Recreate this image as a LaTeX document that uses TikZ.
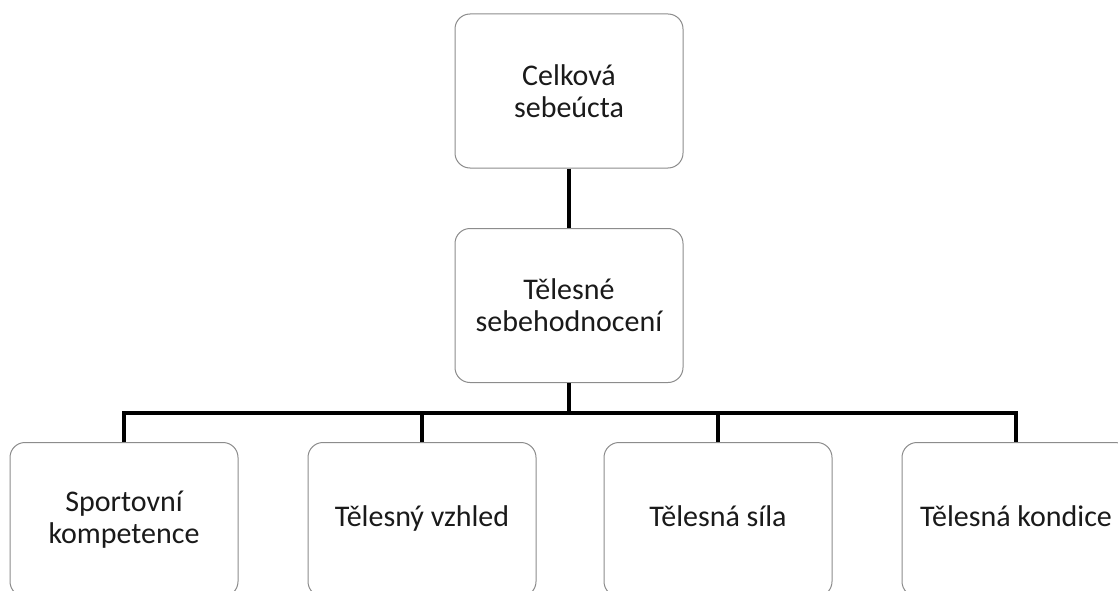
\documentclass[tikz,border=0pt]{standalone}
\usepackage{fontspec}
\setmainfont{Carlito}
\usetikzlibrary{positioning}
\definecolor{hkink}{HTML}{1A1A1A}
\definecolor{hkedge}{HTML}{8C8C8C}
\tikzset{
  box/.style={draw=hkedge,line width=1pt,rounded corners=15pt,fill=white,
              minimum width=228pt,minimum height=154pt,inner sep=0pt,
              align=center,font=\fontsize{30}{32}\selectfont,text=hkink},
  oneline/.style={text height=20pt,text depth=7pt},
  link/.style={line width=4pt,draw=black,line join=miter},
}

\begin{document}
\begin{tikzpicture}[x=1pt,y=-1pt]
  \useasboundingbox (0,0) rectangle (1118,591);
  \clip (0,0) rectangle (1118,591);

  % ---------- top levels ----------
  \node[box] (celk) at (569,91)    {Celková\\sebeúcta};
  \node[box] (tel)  at (569,305.5) {Tělesné\\sebehodnocení};

  % ---------- bottom row ----------
  \node[box] (sport) at (124,519.5)  {Sportovní\\kompetence};
  \node[box,oneline] (vzhl) at (422,519.5)  {Tělesný vzhled};
  \node[box,oneline] (sila) at (718,519.5)  {Tělesná síla};
  \node[box,oneline] (kond) at (1016,519.5) {Tělesná kondice};

  % ---------- connectors ----------
  \coordinate (bus) at (0,413);
  \draw[link] (celk.south) -- (tel.north);
  \draw[link] (tel.south) -- (tel.south |- bus);
  \draw[link] (sport.north) |- (kond.north |- bus) -- (kond.north);
  \draw[link] (vzhl.north) -- (vzhl.north |- bus);
  \draw[link] (sila.north) -- (sila.north |- bus);
\end{tikzpicture}
\end{document}
